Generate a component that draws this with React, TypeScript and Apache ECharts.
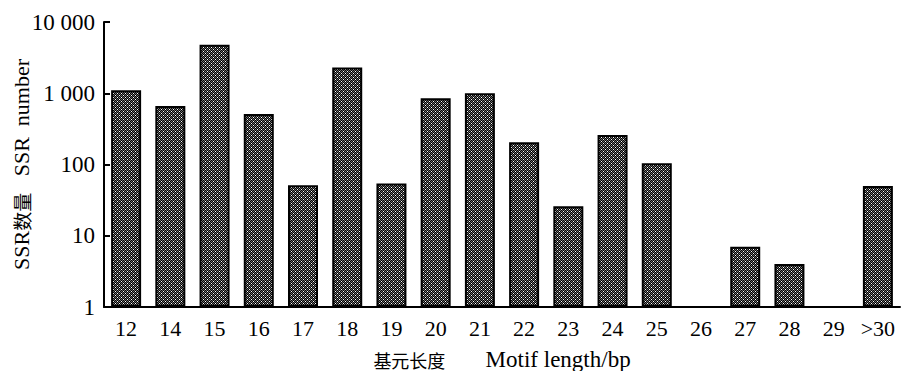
import React, { useEffect, useRef } from "react";
import * as echarts from "echarts";

const categories = ["12", "14", "15", "16", "17", "18", "19", "20", "21", "22", "23", "24", "25", "26", "27", "28", "29", ">30"];
const ssrCounts: (number | null)[] = [1100, 660, 4800, 510, 51, 2300, 54, 850, 1000, 205, 26, 260, 104, null, 7, 4, null, 50];
const yTickLabels: Record<string, string> = { "1": "1", "10": "10", "100": "100", "1000": "1 000", "10000": "10 000" };

const FONT = "'Liberation Serif', 'Times New Roman', 'Noto Sans CJK SC', serif";
const CJK = "'Noto Sans CJK SC', 'Liberation Serif', serif";

function makePattern(): string {
  const c = document.createElement("canvas");
  c.width = 4;
  c.height = 4;
  const ctx = c.getContext("2d")!;
  const B = "#000000", W = "#ffffff", G = "#6e6e6e";
  const rows = [
    [G, B, G, B],
    [B, W, B, G],
    [G, B, G, B],
    [B, G, B, W],
  ];
  rows.forEach((r, y) => r.forEach((col, x) => { ctx.fillStyle = col; ctx.fillRect(x, y, 1, 1); }));
  return c.toDataURL();
}

export default function App() {
  const ref = useRef<HTMLDivElement>(null);
  useEffect(() => {
    if (!ref.current) return;
    const chart = echarts.init(ref.current, null, { renderer: "svg" });
    const pattern = { image: makePattern(), repeat: "repeat", imageWidth: 4, imageHeight: 4 };
    chart.setOption({
      animation: false,
      backgroundColor: "#ffffff",
      grid: { left: 104, right: 1, top: 22, bottom: 64, containLabel: false, outerBoundsMode: "none" },
      xAxis: {
        type: "category",
        data: categories,
        axisLine: { lineStyle: { color: "#000", width: 2 } },
        axisTick: { inside: true, length: 6, lineStyle: { color: "#000", width: 2 } },
        axisLabel: { color: "#000", fontFamily: FONT, fontSize: 22, margin: 10, interval: 0 },
        name: "{c|基元长度}{l|       Motif length/bp}",
        nameLocation: "middle",
        nameGap: 41,
        nameMoveOverlap: false,
        nameTextStyle: {
          color: "#000",
          fontFamily: FONT,
          fontSize: 23,
          rich: {
            c: { fontFamily: CJK, fontSize: 18, color: "#000" },
            l: { fontFamily: FONT, fontSize: 23, color: "#000" },
          },
        },
      },
      yAxis: {
        type: "log",
        logBase: 10,
        min: 1,
        max: 10000,
        splitLine: { show: false },
        axisLine: { show: true, lineStyle: { color: "#000", width: 2 } },
        axisTick: { show: true, inside: true, length: 6, lineStyle: { color: "#000", width: 2 } },
        axisLabel: {
          color: "#000",
          fontFamily: FONT,
          fontSize: 23,
          margin: 9,
          formatter: (v: number) => yTickLabels[String(Math.round(v))] ?? String(v),
        },
        name: "{l|SSR}{c|数量}{l|   SSR  number}",
        nameLocation: "middle",
        nameGap: 72,
        nameMoveOverlap: false,
        nameTextStyle: {
          color: "#000",
          fontFamily: FONT,
          fontSize: 22,
          rich: {
            c: { fontFamily: CJK, fontSize: 19, color: "#000" },
            l: { fontFamily: FONT, fontSize: 22, color: "#000" },
          },
        },
      },
      series: [
        {
          type: "bar",
          data: ssrCounts.map((v) => (v == null ? "-" : v)),
          barWidth: 30,
          itemStyle: { color: pattern, borderColor: "#000", borderWidth: 2 },
        },
      ],
    });
    return () => chart.dispose();
  }, []);
  return <div ref={ref} style={{ width: 901, height: 371, position: "absolute", left: 0, top: 0 }} />;
}
